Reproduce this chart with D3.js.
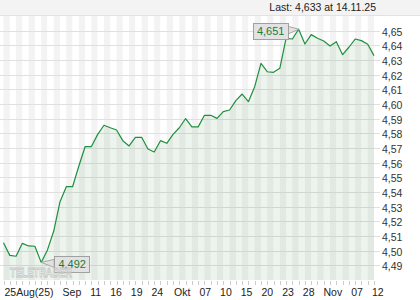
<!DOCTYPE html>
<html>
<head>
<meta charset="utf-8">
<script src="https://cdn.jsdelivr.net/npm/d3@7"></script>
<style>
  body { margin: 0; background: #fff; }
  svg { display: block; font-family: "Liberation Sans", Arial, sans-serif; }
</style>
</head>
<body>
<script>
// trading days (mm-dd, 2025)
var dates = [
  "08-25","08-26","08-27","08-28","08-29",
  "09-01","09-02","09-03","09-04","09-05","09-08","09-09","09-10","09-11","09-12",
  "09-15","09-16","09-17","09-18","09-19","09-22","09-23","09-24","09-25","09-26",
  "09-29","09-30",
  "10-01","10-02","10-03","10-06","10-07","10-08","10-09","10-10","10-13","10-14",
  "10-15","10-16","10-17","10-20","10-21","10-22","10-23","10-24","10-27","10-28",
  "10-29","10-30","10-31",
  "11-03","11-04","11-05","11-06","11-07","11-10","11-11","11-12","11-13","11-14"
];

var closes = [
  4.5054, 4.4968, 4.4962, 4.5050, 4.5032,
  4.5030, 4.4920, 4.5005, 4.5134, 4.5334, 4.5436, 4.5436, 4.5577, 4.5710, 4.5710,
  4.5793, 4.5855, 4.5838, 4.5823, 4.5750, 4.5714, 4.5773, 4.5773, 4.5693, 4.5673,
  4.5750, 4.5732,
  4.5793, 4.5838, 4.5901, 4.5844, 4.5844, 4.5923, 4.5923, 4.5902, 4.5948, 4.5959,
  4.6023, 4.6068, 4.6016, 4.6118, 4.6277, 4.6220, 4.6216, 4.6243, 4.6448, 4.6443,
  4.6510, 4.6409, 4.6473,
  4.6448, 4.6430, 4.6395, 4.6425, 4.6336, 4.6387, 4.6443, 4.6432, 4.6407, 4.6330
];

var yTicks = [4.49, 4.50, 4.51, 4.52, 4.53, 4.54, 4.55, 4.56, 4.57,
              4.58, 4.59, 4.60, 4.61, 4.62, 4.63, 4.64, 4.65];

var xTickDates = ["08-25","09-01","09-11","09-16","09-19","09-24","10-01","10-07",
                  "10-10","10-15","10-20","10-23","10-28","11-03","11-07","11-12"];
var xTickText  = ["25Aug(25)","Sep","11","16","19","24","Okt","07",
                  "10","15","20","23","28","Nov","07","12"];

var lastText = "Last: 4,633 at 14.11.25";
var maxText = "4,651", minText = "4,492";

var width = 420, height = 300;
var plotTop = 16, plotBottom = 280, plotRight = 376;

var de = d3.formatLocale({decimal: ",", thousands: ".", grouping: [3], currency: ["", ""]});
var fmt2 = de.format(".2f");

var svg = d3.select("body").append("svg")
  .attr("width", width)
  .attr("height", height);

var x = d3.scalePoint()
  .domain(dates)
  .range([3.5, 374]);

var y = d3.scaleLinear()
  .domain([4.48, 4.66])
  .range([plotBottom, plotTop]);

//header band
svg.append("rect")
  .attr("x", 0).attr("y", 0)
  .attr("width", width).attr("height", plotTop)
  .attr("fill", "#f3f3f3");
svg.append("line")
  .attr("x1", 0).attr("x2", width)
  .attr("y1", plotTop - 0.5).attr("y2", plotTop - 0.5)
  .attr("stroke", "#e2e2e2");
svg.append("text")
  .attr("x", plotRight)
  .attr("y", 11)
  .attr("text-anchor", "end")
  .attr("font-size", 10.5)
  .attr("fill", "#222")
  .text(lastText);

//alternating day stripes
svg.selectAll(".stripe")
  .data(dates.slice(0, -1))
  .enter()
  .append("rect")
  .attr("class", "stripe")
  .attr("x", function(d){ return x(d); })
  .attr("y", plotTop)
  .attr("width", x.step())
  .attr("height", plotBottom - plotTop)
  .attr("fill", function(d, i){ return i % 2 == 0 ? "#f3f3f3" : "#ffffff"; });

//horizontal grid
svg.selectAll(".grid")
  .data(yTicks)
  .enter()
  .append("line")
  .attr("class", "grid")
  .attr("x1", 0)
  .attr("x2", 380)
  .attr("y1", function(d){ return Math.round(y(d)) + 0.5; })
  .attr("y2", function(d){ return Math.round(y(d)) + 0.5; })
  .attr("stroke", "#e0e0e0");

//area + line
var area = d3.area()
  .x(function(d, i){ return x(dates[i]); })
  .y0(plotBottom)
  .y1(function(d){ return y(d); });

var line = d3.line()
  .x(function(d, i){ return x(dates[i]); })
  .y(function(d){ return y(d); });

svg.append("path")
  .datum(closes)
  .attr("d", area)
  .attr("fill", "#2f7d32")
  .attr("fill-opacity", 0.085);

svg.append("path")
  .datum(closes)
  .attr("d", line)
  .attr("fill", "none")
  .attr("stroke", "#1f8f3f")
  .attr("stroke-width", 1.2)
  .attr("stroke-linejoin", "round");

//y axis labels
svg.selectAll(".ylab")
  .data(yTicks)
  .enter()
  .append("text")
  .attr("class", "ylab")
  .attr("x", 382)
  .attr("y", function(d){ return y(d) + 5; })
  .attr("font-size", 10.5)
  .attr("fill", "#333")
  .text(function(d){ return fmt2(d); });

//x axis day ticks
svg.selectAll(".xtick")
  .data(dates)
  .enter()
  .append("line")
  .attr("class", "xtick")
  .attr("x1", function(d){ return Math.round(x(d)) + 0.5; })
  .attr("x2", function(d){ return Math.round(x(d)) + 0.5; })
  .attr("y1", plotBottom + 1)
  .attr("y2", plotBottom + 5)
  .attr("stroke", "#cccccc");

//x labels start at their tick, pushed right when they would overlap the previous one
var xLabels = svg.append("g")
  .attr("font-size", 10.5)
  .attr("fill", "#222");
var prevEnd = -Infinity;
xTickDates.forEach(function(d, i){
  var txt = xTickText[i];
  var t = xLabels.append("text").attr("y", 296).text(txt);
  var w = t.node().getComputedTextLength();
  var left = x(d) + 1;
  if (left < prevEnd + 9) left = prevEnd + 9;
  t.attr("x", left);
  prevEnd = left + w;
});

//max / min callouts
var iMax = d3.maxIndex(closes), iMin = d3.minIndex(closes);

function callout(i, txt, side){
  var px = x(dates[i]), py = y(closes[i]);
  var bw = 35, bh = 16;
  var bx = side < 0 ? px - 11 - bw : px + 13;
  var by = py - bh / 2 + 2;
  var edge = side < 0 ? bx + bw : bx;
  var g = svg.append("g");
  g.append("path")
    .attr("d", "M" + edge + "," + (by + 3) + "L" + px + "," + py + "L" + edge + "," + (by + bh - 5) + "Z")
    .attr("fill", "#e2e2e2")
    .attr("stroke", "#a8a8a8");
  g.append("rect")
    .attr("x", Math.round(bx) + 0.5)
    .attr("y", Math.round(by) + 0.5)
    .attr("width", bw)
    .attr("height", bh)
    .attr("fill", "#e2e2e2")
    .attr("stroke", "#a0a0a0");
  g.append("text")
    .attr("x", bx + bw / 2 + 0.5)
    .attr("y", by + 12)
    .attr("text-anchor", "middle")
    .attr("font-size", 11)
    .attr("fill", "#1f7a36")
    .text(txt);
}
callout(iMax, maxText, -1);
callout(iMin, minText, 1);

//watermark, drawn over the callout like the original
svg.append("text")
  .attr("x", 10)
  .attr("y", 277)
  .attr("font-size", 13)
  .attr("font-weight", "bold")
  .attr("textLength", 62)
  .attr("lengthAdjust", "spacingAndGlyphs")
  .attr("fill", "#ffffff")
  .attr("fill-opacity", 0.35)
  .attr("stroke", "#c4c4c4")
  .attr("stroke-width", 0.8)
  .text("TELETRADER");
</script>
</body>
</html>
